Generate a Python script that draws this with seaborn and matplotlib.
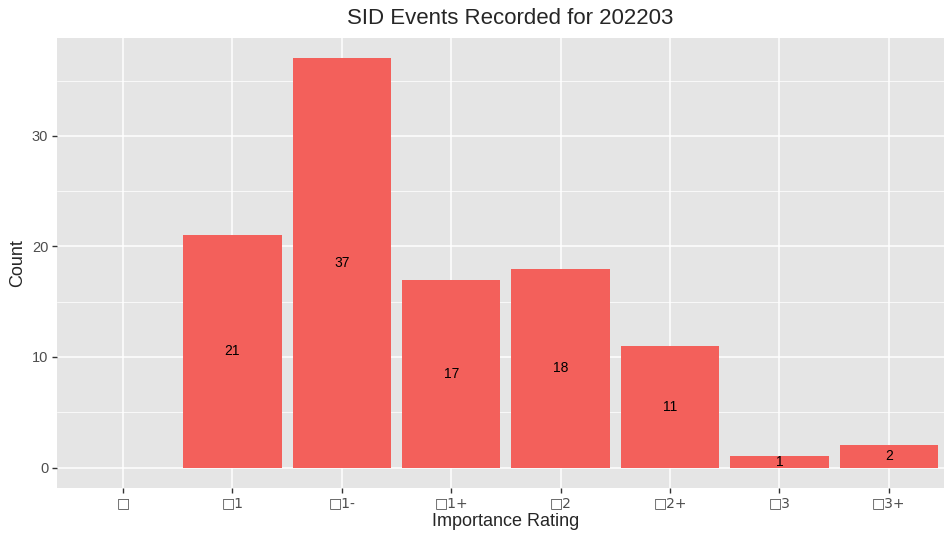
import numpy as np
import pandas as pd
import matplotlib as mpl
mpl.use('Agg')
import matplotlib.pyplot as plt
import seaborn as sns

# tick labels render as missing-glyph boxes in the original
ratings = ["\u25a1", "\u25a11", "\u25a11-", "\u25a11+", "\u25a12", "\u25a12+", "\u25a13", "\u25a13+"]
counts = [np.nan, 21, 37, 17, 18, 11, 1, 2]

df = pd.DataFrame({"rating": ratings, "count": counts})

sns.set_style("darkgrid", {"axes.facecolor": "#E5E5E5", "grid.color": "white"})
plt.rcParams['font.family'] = ['Liberation Sans', 'DejaVu Sans']

fig = plt.figure(figsize=(9.45, 5.35), dpi=100)
ax = fig.add_axes([0.0607, 0.0879, 0.9494, 0.841])

sns.barplot(data=df, x="rating", y="count", color="#F3605B", saturation=1,
            width=0.9, order=ratings, ax=ax)
for p in ax.patches:
    p.set_edgecolor("none")

for i, c in enumerate(counts):
    if not np.isnan(c):
        ax.text(i, c / 2, f"{int(c)}", ha="center", va="center", fontsize=10, color="black")

ax.set_xlim(-0.6, 7.6)
ax.set_ylim(-1.85, 38.85)
ax.set_yticks([0, 10, 20, 30])
ax.yaxis.set_minor_locator(mpl.ticker.FixedLocator([5, 15, 25, 35]))
ax.grid(which="major", color="white", linewidth=1.1)
ax.grid(which="minor", axis="y", color="white", linewidth=0.55)
ax.tick_params(axis="both", which="major", bottom=True, left=True, length=3.5, width=1,
               color="#333333", labelsize=10.5, labelcolor="#4D4D4D", pad=3, direction="out")
ax.tick_params(axis="x", which="major", pad=2.5)
ax.tick_params(which="minor", length=0)
for lab in ax.get_xticklabels():
    lab.set_fontfamily("DejaVu Sans")
    lab.set_fontsize(10)

for s in ax.spines.values():
    s.set_visible(False)

ax.set_xlabel("Importance Rating", fontsize=13, labelpad=2)
ax.set_ylabel("Count", fontsize=13, labelpad=4)
fig.text(0.54, 0.965, "SID Events Recorded for 202203", ha="center", va="center", fontsize=16)

fig.savefig("out.png", dpi=100)
